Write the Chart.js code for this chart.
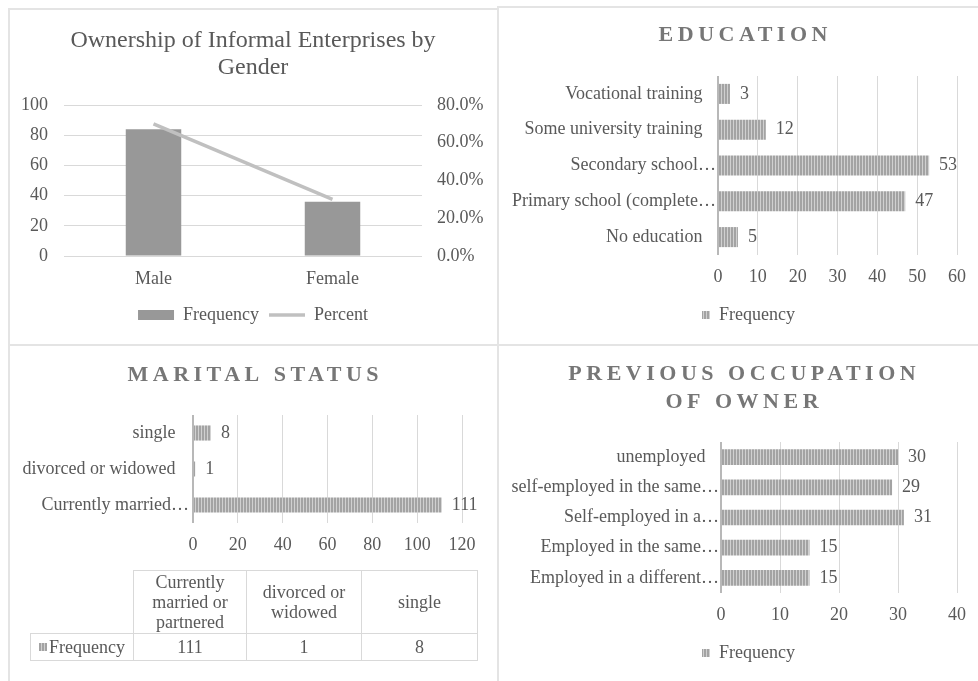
<!DOCTYPE html>
<html>
<head>
<meta charset="utf-8">
<script src="https://cdn.jsdelivr.net/npm/chart.js@4.4.1/dist/chart.umd.min.js"></script>
<style>
    body {
        margin: 0;
        width: 978px;
        height: 681px;
        overflow: hidden;
        background: #fff;
        position: relative;
        font-family: "Liberation Serif", serif;
    }
    canvas, .linha, table {
        position: absolute;
    }
    .linha {
        background: #e4e4e4;
    }
    #tabelaCivil {
        left: 30px;
        top: 570px;
        border-collapse: collapse;
        font-size: 18px;
        color: #595959;
        table-layout: fixed;
    }
    #tabelaCivil td {
        border: 1px solid #d9d9d9;
        text-align: center;
        padding: 0;
        line-height: 20px;
    }
    #tabelaCivil td.vazio {
        border: none;
    }
    .chave {
        display: inline-block;
        width: 8px;
        height: 8px;
        margin-right: 2px;
        vertical-align: 2px;
        background: repeating-linear-gradient(90deg, #a3a3a3 0 2px, #d0d0d0 2px 3px);
    }
</style>
</head>
<body>
<!-- bordas dos quadros -->
<div class="linha" style="left:8px;top:8px;width:491px;height:2px"></div>
<div class="linha" style="left:498px;top:6px;width:480px;height:2px"></div>
<div class="linha" style="left:8px;top:8px;width:2px;height:673px"></div>
<div class="linha" style="left:497px;top:6px;width:2px;height:675px"></div>
<div class="linha" style="left:8px;top:344px;width:970px;height:2px"></div>

<canvas id="genero" width="486" height="332" style="left:10px;top:10px"></canvas>
<canvas id="educacao" width="478" height="336" style="left:500px;top:8px"></canvas>
<canvas id="estadoCivil" width="486" height="334" style="left:10px;top:347px"></canvas>
<canvas id="ocupacao" width="478" height="334" style="left:500px;top:347px"></canvas>
<table id="tabelaCivil"></table>

<script>
// dados
var generoCategorias = ['Male', 'Female'];
var generoFrequencia = [84, 36];
var generoPercentual = [0.70, 0.30];

var educacaoCategorias = ['No education', 'Primary school (complete…', 'Secondary school…', 'Some university training', 'Vocational training'];
var educacaoFrequencia = [5, 47, 53, 12, 3];

var civilCategorias = ['Currently married or partnered', 'divorced or widowed', 'single'];
var civilRotulosEixo = ['Currently married…', 'divorced or widowed', 'single'];
var civilFrequencia = [111, 1, 8];

var ocupacaoCategorias = ['Employed in a different…', 'Employed in the same…', 'Self-employed in a…', 'self-employed in the same…', 'unemployed'];
var ocupacaoFrequencia = [15, 15, 31, 29, 30];

Chart.defaults.font.family = '"Liberation Serif", serif';
Chart.defaults.font.size = 18;
Chart.defaults.color = '#595959';
Chart.defaults.animation = false;

// titulo com espacamento entre letras (estilo do Excel)
var tituloEspacado = {
    id: 'tituloEspacado',
    afterDraw: function (chart, args, opts) {
        var ctx = chart.ctx;
        ctx.save();
        ctx.font = opts.peso + ' ' + opts.tamanho + 'px "Liberation Serif", serif';
        ctx.letterSpacing = opts.espaco + 'px';
        ctx.fillStyle = opts.cor;
        ctx.textAlign = 'center';
        ctx.textBaseline = 'middle';
        opts.texto.split('\n').forEach(function (linha, i) {
            ctx.fillText(linha, opts.x + opts.espaco / 2, opts.y + i * opts.entreLinhas);
        });
        ctx.restore();
    }
};

// valores escritos na ponta das barras
var rotulosValores = {
    id: 'rotulosValores',
    afterDatasetsDraw: function (chart, args, opts) {
        if (!opts.mostrar) return;
        var ctx = chart.ctx;
        var valores = chart.data.datasets[0].data;
        ctx.save();
        ctx.font = '18px "Liberation Serif", serif';
        ctx.fillStyle = '#595959';
        ctx.textAlign = 'left';
        ctx.textBaseline = 'middle';
        chart.getDatasetMeta(0).data.forEach(function (barra, i) {
            ctx.fillText(valores[i], barra.x + opts.distancia, barra.y);
        });
        ctx.restore();
    }
};

// empurra a legenda para a direita (no Excel ela fica centrada no quadro todo)
var deslocarLegenda = {
    id: 'deslocarLegenda',
    afterLayout: function (chart, args, opts) {
        if (!chart.legend || !opts.dx) return;
        chart.legend.left += opts.dx;
        chart.legend.right += opts.dx;
    }
};

function criarListras(ctx) {
    var c = document.createElement('canvas');
    c.width = 3;
    c.height = 2;
    var g = c.getContext('2d');
    g.fillStyle = '#a3a3a3';
    g.fillRect(0, 0, 3, 2);
    g.fillStyle = '#d0d0d0';
    g.fillRect(2, 0, 1, 2);
    return ctx.createPattern(c, 'repeat');
}

function corGrade(context) {
    return context.tick && context.tick.value === 0 ? '#b8b8b8' : '#d9d9d9';
}

function larguraGrade(context) {
    return context.tick && context.tick.value === 0 ? 2 : 1;
}

// rotulos cortados pelo Excel (com reticencias) encostam no eixo; os outros ficam recuados
function rotuloCategoria(valor, indice) {
    var texto = this.getLabelForValue(valor);
    if (texto.slice(-1) === '…') return texto;
    return texto + '   ';
}

var graficoGenero = new Chart(document.getElementById('genero').getContext('2d'), {
    type: 'bar',
    data: {
        labels: generoCategorias,
        datasets: [{
            type: 'bar',
            label: 'Frequency',
            data: generoFrequencia,
            backgroundColor: '#989898',
            yAxisID: 'y',
            order: 2,
            barPercentage: 0.31,
            categoryPercentage: 1,
            pointStyle: 'rect'
        }, {
            type: 'line',
            label: 'Percent',
            data: generoPercentual,
            borderColor: '#c0c0c0',
            backgroundColor: '#c0c0c0',
            borderWidth: 3.5,
            pointRadius: 0,
            yAxisID: 'y1',
            order: 1,
            pointStyle: 'line'
        }]
    },
    options: {
        responsive: false,
        events: [],
        layout: { padding: { top: 95, left: 0, right: 0, bottom: 8 } },
        scales: {
            x: {
                grid: { display: false },
                border: { display: false },
                ticks: { padding: 4 },
                afterFit: function (scale) { scale.height = 40; }
            },
            y: {
                position: 'left',
                min: 0,
                max: 100,
                ticks: { stepSize: 20, padding: 16 },
                grid: { color: '#d9d9d9', drawTicks: false },
                border: { display: false },
                afterFit: function (scale) { scale.width = 54; }
            },
            y1: {
                position: 'right',
                min: 0,
                max: 0.8,
                ticks: {
                    stepSize: 0.2,
                    padding: 15,
                    callback: function (v) { return (v * 100).toFixed(1) + '%'; }
                },
                grid: { display: false, drawTicks: false },
                border: { display: false },
                afterFit: function (scale) { scale.width = 74; }
            }
        },
        plugins: {
            legend: {
                position: 'bottom',
                labels: {
                    usePointStyle: true,
                    pointStyleWidth: 36,
                    boxHeight: 10,
                    padding: 10,
                    sort: function (a, b) { return a.datasetIndex - b.datasetIndex; }
                }
            },
            tooltip: { enabled: false },
            tituloEspacado: {
                texto: 'Ownership of Informal Enterprises by\nGender',
                x: 243, y: 31, entreLinhas: 27,
                tamanho: 24, peso: 'normal', espaco: 0, cor: '#595959'
            },
            rotulosValores: { mostrar: false }
        }
    },
    plugins: [tituloEspacado, rotulosValores]
});

function graficoHorizontal(id, rotulos, valores, cfg) {
    var ctx = document.getElementById(id).getContext('2d');
    var listras = criarListras(ctx);
    return new Chart(ctx, {
        type: 'bar',
        data: {
            labels: rotulos,
            datasets: [{
                label: 'Frequency',
                data: valores,
                backgroundColor: listras,
                barPercentage: cfg.barra,
                categoryPercentage: 1,
                pointStyle: 'rect'
            }]
        },
        options: {
            responsive: false,
            events: [],
            indexAxis: 'y',
            layout: { padding: cfg.margens },
            scales: {
                x: {
                    min: 0,
                    max: cfg.max,
                    ticks: { stepSize: cfg.passo, padding: 11 },
                    grid: { color: corGrade, lineWidth: larguraGrade, drawTicks: false },
                    border: { display: false },
                    afterFit: function (scale) { scale.height = cfg.alturaX; }
                },
                y: {
                    reverse: true,
                    grid: { display: false, drawTicks: false },
                    border: { display: false },
                    ticks: { padding: cfg.recuo, autoSkip: false, callback: rotuloCategoria },
                    afterFit: function (scale) { scale.width = cfg.larguraY; }
                }
            },
            plugins: {
                legend: {
                    display: cfg.legenda,
                    position: 'bottom',
                    labels: { boxWidth: 8, boxHeight: 8, padding: 10 }
                },
                tooltip: { enabled: false },
                tituloEspacado: {
                    texto: cfg.titulo,
                    x: cfg.centro, y: cfg.yTitulo, entreLinhas: 28,
                    tamanho: 22, peso: 'bold', espaco: 4.5, cor: '#767676'
                },
                rotulosValores: { mostrar: true, distancia: 10 },
                deslocarLegenda: { dx: cfg.dxLegenda }
            }
        },
        plugins: [tituloEspacado, rotulosValores, deslocarLegenda]
    });
}

var graficoEducacao = graficoHorizontal('educacao', educacaoCategorias, educacaoFrequencia, {
    max: 60, passo: 10, barra: 0.56,
    margens: { top: 68, left: 0, right: 21, bottom: 10 },
    larguraY: 218, alturaX: 41, recuo: 2, legenda: true, dxLegenda: 20,
    titulo: 'EDUCATION', centro: 243, yTitulo: 27
});

var graficoCivil = graficoHorizontal('estadoCivil', civilRotulosEixo, civilFrequencia, {
    max: 120, passo: 20, barra: 0.42,
    margens: { top: 68, left: 0, right: 34, bottom: 118 },
    larguraY: 183, alturaX: 40, recuo: 4, legenda: false, dxLegenda: 0,
    titulo: 'MARITAL STATUS', centro: 243, yTitulo: 28
});

var graficoOcupacao = graficoHorizontal('ocupacao', ocupacaoCategorias, ocupacaoFrequencia, {
    max: 40, passo: 10, barra: 0.52,
    margens: { top: 95, left: 0, right: 21, bottom: 9 },
    larguraY: 221, alturaX: 41, recuo: 2, legenda: true, dxLegenda: 20,
    titulo: 'PREVIOUS OCCUPATION\nOF OWNER', centro: 242, yTitulo: 27
});

// tabela de dados do grafico de estado civil
function montarTabela() {
    var larguras = [103, 113, 115, 116];
    var html = '<colgroup>';
    larguras.forEach(function (l) { html += '<col style="width:' + l + 'px">'; });
    html += '</colgroup><tr style="height:63px"><td class="vazio"></td>';
    civilCategorias.forEach(function (c) { html += '<td>' + c + '</td>'; });
    html += '</tr><tr style="height:27px"><td><span class="chave"></span>Frequency</td>';
    civilFrequencia.forEach(function (v) { html += '<td>' + v + '</td>'; });
    html += '</tr>';
    document.getElementById('tabelaCivil').innerHTML = html;
}
montarTabela();
</script>
</body>
</html>
